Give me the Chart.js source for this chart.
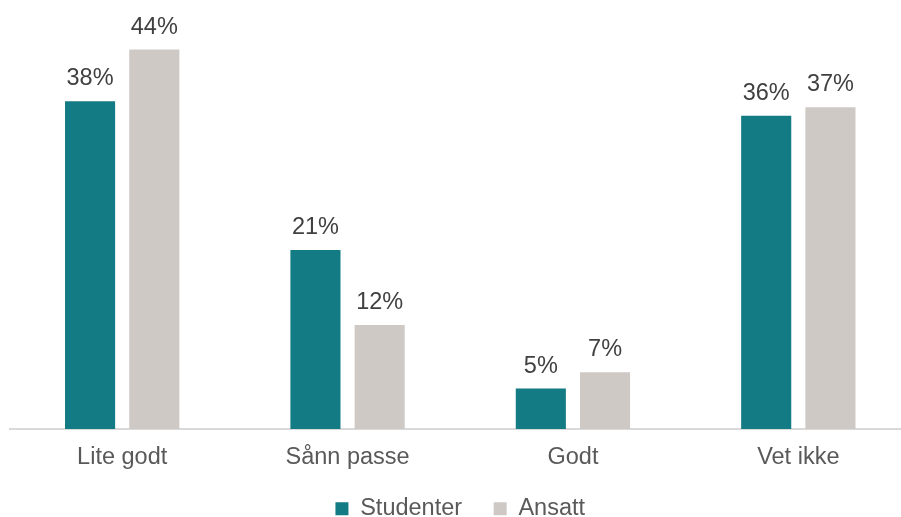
<!DOCTYPE html>
<html>
<head>
<meta charset="utf-8">
<script src="https://cdn.jsdelivr.net/npm/chart.js@4/dist/chart.umd.min.js"></script>
<style>
    html, body { margin: 0; padding: 0; background: #fff; overflow: hidden; }
    #wrap { width: 912px; height: 517px; }
</style>
</head>
<body>
<div id="wrap"><canvas id="chart"></canvas></div>
<script>
const categories = ["Lite godt", "Sånn passe", "Godt", "Vet ikke"];
const studenter = [38.1, 20.8, 4.7, 36.4];
const ansatt = [44.1, 12.1, 6.6, 37.4];
const seriesNames = ["Studenter", "Ansatt"];

const FONT = "'Liberation Sans', Arial, sans-serif";

// draws the % value above each bar
const valueLabels = {
    id: "valueLabels",
    afterDatasetsDraw(chart) {
        const ctx = chart.ctx;
        ctx.save();
        ctx.font = "23.5px " + FONT;
        ctx.fillStyle = "#404040";
        ctx.textAlign = "center";
        ctx.textBaseline = "alphabetic";
        chart.data.datasets.forEach((ds, i) => {
            chart.getDatasetMeta(i).data.forEach((bar, j) => {
                ctx.fillText(Math.round(ds.data[j]) + "%", bar.x, bar.y - 16);
            });
        });
        ctx.restore();
    },
};

function renderChart() {
    const ctx = document.getElementById("chart").getContext("2d");

    new Chart(ctx, {
        type: "bar",
        data: {
            labels: categories,
            datasets: [
                {
                    label: seriesNames[0],
                    data: studenter,
                    backgroundColor: "#137b83",
                    categoryPercentage: 0.57,
                    barPercentage: 0.78,
                },
                {
                    label: seriesNames[1],
                    data: ansatt,
                    backgroundColor: "#cfc9c6",
                    categoryPercentage: 0.57,
                    barPercentage: 0.78,
                },
            ],
        },
        options: {
            responsive: true,
            maintainAspectRatio: false,
            animation: false,
            layout: {
                padding: { left: 9.5, right: 1, top: 16, bottom: 0 },
            },
            scales: {
                x: {
                    grid: { display: false, drawTicks: false },
                    border: { display: true, color: "#d9d9d9", width: 2 },
                    ticks: {
                        padding: 14,
                        color: "#595959",
                        font: { family: FONT, size: 23.5 },
                    },
                    afterFit(scale) {
                        scale.height = 56;
                    },
                },
                y: {
                    display: false,
                    min: 0,
                    max: 48,
                },
            },
            plugins: {
                legend: {
                    position: "bottom",
                    maxHeight: 32,
                    labels: {
                        boxWidth: 13,
                        boxHeight: 13,
                        padding: 12,
                        color: "#595959",
                        font: { family: FONT, size: 23.5 },
                        generateLabels(chart) {
                            const items = Chart.defaults.plugins.legend.labels.generateLabels(chart);
                            // wider gap between the two items without extra vertical padding
                            items[0].text = items[0].text + "   ";
                            return items;
                        },
                    },
                },
                tooltip: { enabled: false },
            },
        },
        plugins: [valueLabels],
    });
}

renderChart();
</script>
</body>
</html>
